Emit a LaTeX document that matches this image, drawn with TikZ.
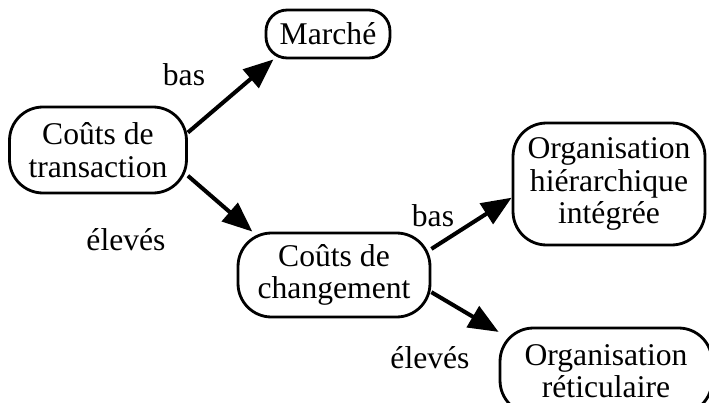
\documentclass[tikz,border=0pt]{standalone}
\usepackage{fontspec}
\setmainfont{Liberation Serif}
\usetikzlibrary{arrows.meta, positioning}
\tikzstyle{box} = [rectangle, rounded corners=19pt, draw=black, line width=1.6pt, align=center, inner sep=0pt, font=\fontsize{18}{18.5}\selectfont]
\tikzstyle{smallbox} = [box, rounded corners=12pt]
\tikzstyle{level} = [inner sep=0pt, font=\fontsize{18}{18.5}\selectfont]
\tikzstyle{arrow} = [line width=2.3pt, -{Triangle[length=0.6cm, width=0.48cm]}]

\begin{document}
\begin{tikzpicture}[x=0.02cm, y=-0.02cm]
    \useasboundingbox (0,0) rectangle (709,402);

    % Transaction costs and the market
    \node[box, minimum width=3.54cm, minimum height=1.72cm] (trans) at (98,150) {Coûts de\\transaction};
    \node[smallbox, minimum width=2.48cm, minimum height=0.96cm] (marche) at (328,34) {Marché};

    % Switching costs
    \node[box, minimum width=3.84cm, minimum height=1.68cm] (chg) at (334,275) {Coûts de\\changement};

    % Organisations
    \node[box, minimum width=3.84cm, minimum height=2.44cm] (hier) at (609,184) {Organisation\\hiérarchique\\intégrée};
    \node[box, minimum width=4.24cm, minimum height=1.72cm] (ret) at (606,371) {Organisation\\réticulaire};

    % Levels
    \node[level] (bas1) at (184,75) {bas};
    \node[level] (elev1) at (126,240) {élevés};
    \node[level] (bas2) at (433,216) {bas};
    \node[level] (elev2) at (430,358) {élevés};

    % Arrows
    \draw[arrow] (trans.11) -- (marche.205);
    \draw[arrow] (trans.-16) -- (chg.152);
    \draw[arrow] (chg.15) -- (hier.188);
    \draw[arrow] (chg.-10) -- (ret.160);
\end{tikzpicture}
\end{document}
